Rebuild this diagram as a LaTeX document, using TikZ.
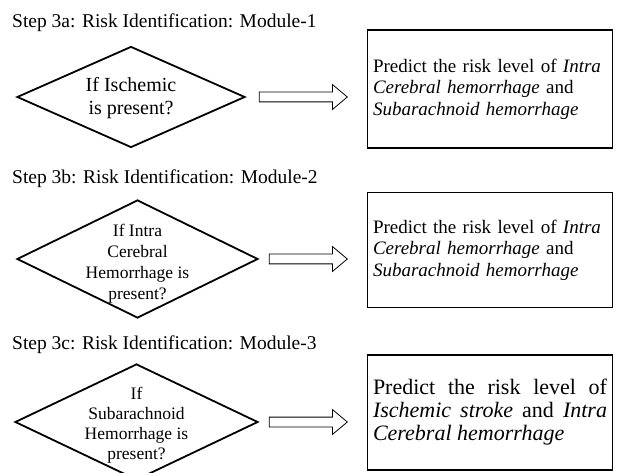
\documentclass[tikz,border=0pt]{standalone}
\usepackage{fontspec}
\setmainfont{Liberation Serif}
\usetikzlibrary{positioning,shapes.geometric,shapes.arrows}
\hyphenpenalty=10000
\exhyphenpenalty=10000

\begin{document}
\begin{tikzpicture}[x=1pt,y=1pt,
    title/.style={anchor=base west, inner sep=0pt, font=\fontsize{19.5}{23}\selectfont},
    decision/.style={diamond, draw, line width=1.8pt, inner sep=0pt},
    question/.style={align=center, inner sep=0pt, font=\fontsize{17.5}{21}\selectfont},
    outcome/.style={draw, line width=1.1pt, minimum width=245pt, text width=234pt,
      inner xsep=5.5pt, font=\fontsize{19}{21.5}\selectfont},
    blockarrow/.style={single arrow, draw, line width=0.8pt, inner sep=4.5pt,
      single arrow head extend=7.5pt, single arrow tip angle=80}
  ]
  \useasboundingbox (0,0) rectangle (619,472);
  \clip (0,0) rectangle (619,472);

  % Module 1
  \node[title] (t1) at (12,444) {Step 3a: Risk Identification: Module-1};
  \node[decision, minimum width=228pt, minimum height=101pt] (d1) at (131,375) {};
  \node[question, font=\fontsize{20}{23}\selectfont] (q1) at (131,374) {If Ischemic\\is present?};
  \node[outcome, align=left, minimum height=118pt] (o1) at (490,383) {Predict the risk level of \emph{Intra}\\\emph{Cerebral hemorrhage} and\\\emph{Subarachnoid hemorrhage}};
  \node[blockarrow, minimum height=88pt, right=13pt of d1] (a1) {};

  % Module 2
  \node[title] (t2) at (12,288) {Step 3b: Risk Identification: Module-2};
  \node[decision, minimum width=241pt, minimum height=118pt] (d2) at (137.5,213) {};
  \node[question] (q2) at (137.5,208) {If Intra\\Cerebral\\Hemorrhage is\\present?};
  \node[outcome, align=left, minimum height=115pt] (o2) at (490,222) {Predict the risk level of \emph{Intra}\\\emph{Cerebral hemorrhage} and\\\emph{Subarachnoid hemorrhage}};
  \node[blockarrow, minimum height=78pt, right=10pt of d2] (a2) {};

  % Module 3
  \node[title] (t3) at (12,123) {Step 3c: Risk Identification: Module-3};
  \node[decision, minimum width=243pt, minimum height=116pt] (d3) at (136.5,50) {};
  \node[question, font=\fontsize{17.5}{20}\selectfont] (q3) at (136.5,47) {If\\Subarachnoid\\Hemorrhage is\\present?};
  \node[outcome, align=justify, minimum height=115pt, font=\fontsize{22}{23}\selectfont] (o3) at (490,59.5) {Predict the risk level of\linebreak \emph{Ischemic stroke} and \emph{Intra}\linebreak \emph{Cerebral hemorrhage}};
  \node[blockarrow, minimum height=78pt, right=10pt of d3] (a3) {};
\end{tikzpicture}
\end{document}
